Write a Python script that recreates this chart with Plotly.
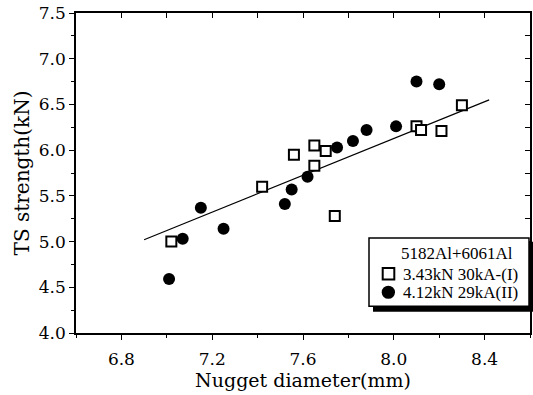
import plotly.graph_objects as go

# Series I: 3.43kN 30kA-(I)  (open squares)
sq_x = [7.02, 7.42, 7.56, 7.65, 7.65, 7.70, 7.74, 8.10, 8.12, 8.21, 8.30]
sq_y = [5.00, 5.60, 5.95, 6.05, 5.83, 5.99, 5.28, 6.26, 6.22, 6.21, 6.49]

# Series II: 4.12kN 29kA(II)  (filled circles)
ci_x = [7.01, 7.07, 7.15, 7.25, 7.52, 7.55, 7.62, 7.75, 7.82, 7.88, 8.01, 8.10, 8.20]
ci_y = [4.59, 5.03, 5.37, 5.14, 5.41, 5.57, 5.71, 6.03, 6.10, 6.22, 6.26, 6.75, 6.72]

# Regression line endpoints
fit_x = [6.90, 8.42]
fit_y = [5.02, 6.55]

legend_title = "5182Al+6061Al"
name_I = "3.43kN 30kA-(I)"
name_II = "4.12kN 29kA(II)"

AX_FONT = dict(family="DejaVu Serif", size=17, color="black")
LG_FONT = dict(family="Liberation Serif", size=17, color="black")

# plot area in pixels: x 76..530, y 10..333
def px(xp):
    return (xp - 76) / 454.0

def py(yp):
    return (333 - yp) / 323.0

fig = go.Figure()
fig.add_trace(go.Scatter(x=fit_x, y=fit_y, mode="lines",
                         line=dict(color="black", width=1.2),
                         showlegend=False, hoverinfo="skip"))
fig.add_trace(go.Scatter(x=sq_x, y=sq_y, mode="markers", name=name_I,
                         showlegend=False,
                         marker=dict(symbol="square", size=10, color="white",
                                     line=dict(color="black", width=2))))
fig.add_trace(go.Scatter(x=ci_x, y=ci_y, mode="markers", name=name_II,
                         showlegend=False,
                         marker=dict(symbol="circle", size=12, color="black",
                                     line=dict(width=0))))
# helper trace so the mirrored top/right axes are drawn
fig.add_trace(go.Scatter(x=[None], y=[None], xaxis="x2", yaxis="y2",
                         showlegend=False, hoverinfo="skip"))

# legend box (drawn as a framed panel with drop shadow)
shapes = [
    dict(type="rect", xref="paper", yref="paper",
         x0=px(373), x1=px(535), y0=py(311.5), y1=py(241),
         fillcolor="black", line=dict(width=0), layer="above"),
    dict(type="rect", xref="paper", yref="paper",
         x0=px(369), x1=px(529), y0=py(306), y1=py(237),
         fillcolor="white", line=dict(color="black", width=1.5), layer="above"),
    dict(type="rect", xref="paper", yref="paper",
         x0=px(382.7), x1=px(394.3), y0=py(279), y1=py(267.4),
         fillcolor="white", line=dict(color="black", width=2), layer="above"),
    dict(type="circle", xref="paper", yref="paper",
         x0=px(381.7), x1=px(395), y0=py(298.5), y1=py(285.2),
         fillcolor="black", line=dict(width=0), layer="above"),
]

annotations = [
    dict(text=legend_title, xref="paper", yref="paper", x=px(456.5), y=py(253),
         xanchor="center", yanchor="middle", showarrow=False, font=LG_FONT),
    dict(text=name_I, xref="paper", yref="paper", x=px(401), y=py(273.5),
         xanchor="left", yanchor="middle", showarrow=False, font=LG_FONT),
    dict(text=name_II, xref="paper", yref="paper", x=px(401), y=py(292.5),
         xanchor="left", yanchor="middle", showarrow=False, font=LG_FONT),
]

fig.update_layout(
    width=533, height=395,
    margin=dict(l=76, r=3, t=10, b=62),
    paper_bgcolor="white", plot_bgcolor="white",
    showlegend=False,
    xaxis=dict(range=[6.6, 8.6], tick0=6.8, dtick=0.4, tickformat=".1f",
               ticks="outside", ticklen=5, tickwidth=1.2, tickcolor="black",
               minor=dict(dtick=0.2, tick0=6.6, ticks="outside", ticklen=3,
                          tickwidth=1.2, tickcolor="black"),
               showline=True, linecolor="black", linewidth=1.5,
               showgrid=False, zeroline=False, tickfont=AX_FONT,
               ticklabelstandoff=5, ticklabeloverflow="allow",
               title=dict(text="Nugget diameter(mm)",
                          font=dict(family="DejaVu Serif", size=19, color="black"),
                          standoff=5)),
    yaxis=dict(range=[4.0, 7.5], tick0=4.0, dtick=0.5, tickformat=".1f",
               ticks="outside", ticklen=5, tickwidth=1.2, tickcolor="black",
               minor=dict(dtick=0.25, ticks="outside", ticklen=3,
                          tickwidth=1.2, tickcolor="black"),
               showline=True, linecolor="black", linewidth=1.5,
               showgrid=False, zeroline=False, tickfont=AX_FONT,
               ticklabeloverflow="allow",
               title=dict(text="TS strength(kN)",
                          font=dict(family="DejaVu Serif", size=20, color="black"),
                          standoff=4)),
    xaxis2=dict(range=[6.6, 8.6], overlaying="x", side="top", tick0=6.6,
                dtick=0.2, ticks="inside", ticklen=5, tickwidth=1.2,
                tickcolor="black", showticklabels=False, showline=True,
                linecolor="black", linewidth=1.5, showgrid=False, zeroline=False),
    yaxis2=dict(range=[4.0, 7.5], overlaying="y", side="right", tick0=4.0,
                dtick=0.25, ticks="inside", ticklen=5, tickwidth=1.2,
                tickcolor="black", showticklabels=False, showline=True,
                linecolor="black", linewidth=1.5, showgrid=False, zeroline=False),
    shapes=shapes,
    annotations=annotations,
)

fig.write_html("out.html")
